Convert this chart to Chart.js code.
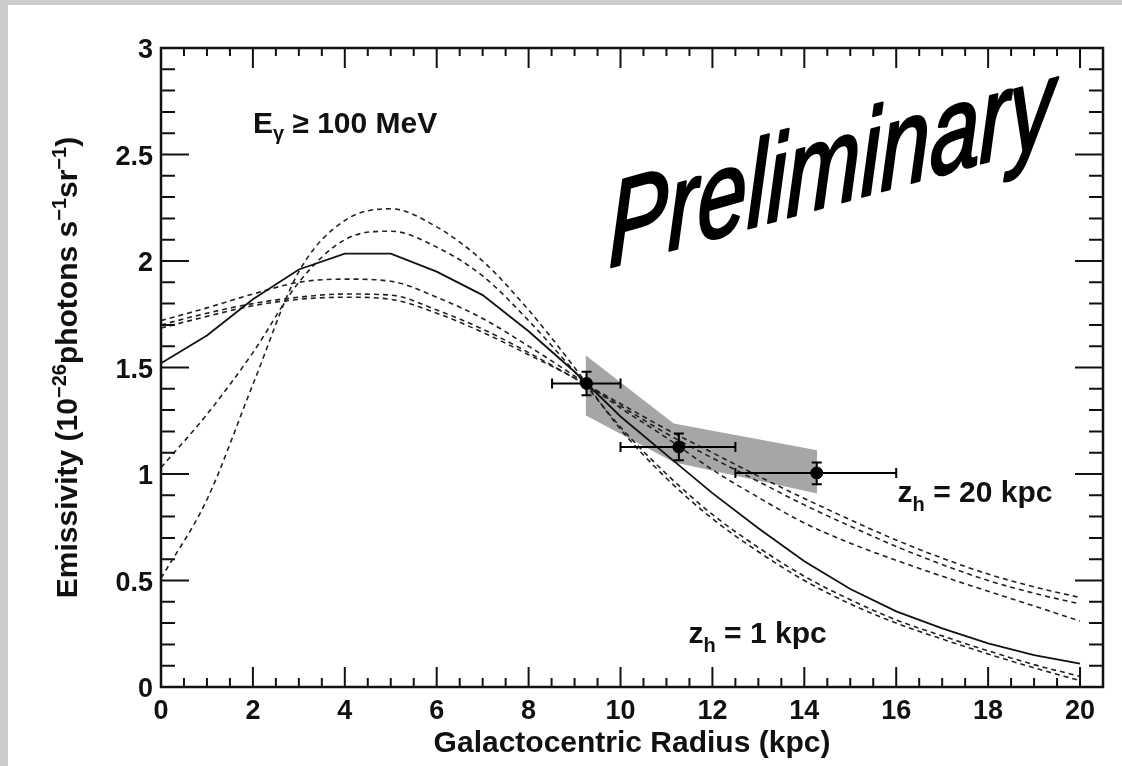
<!DOCTYPE html>
<html>
<head>
<meta charset="utf-8">
<title>Gamma-ray emissivity vs galactocentric radius</title>
<script src="https://cdn.jsdelivr.net/npm/chart.js@4.4.1/dist/chart.umd.min.js"></script>
<style>
  html, body { margin: 0; padding: 0; }
  body { width: 1122px; height: 766px; background: #cccccc; position: relative; overflow: hidden; }
  #plot { position: absolute; left: 8px; top: 5px; background: #ffffff; }
</style>
</head>
<body>
<canvas id="plot" width="1114" height="761"></canvas>
<script>
// model curves, evaluated at integer radii (kpc)
const radius = [0, 1, 2, 3, 4, 5, 6, 7, 8, 9, 10, 11, 12, 13, 14, 15, 16, 17, 18, 19, 20];
const solidCurve = [1.52, 1.65, 1.82, 1.96, 2.035, 2.035, 1.95, 1.84, 1.67, 1.48, 1.27, 1.09, 0.91, 0.745, 0.59, 0.46, 0.355, 0.275, 0.205, 0.15, 0.11];
const dashed1 = [0.51, 0.88, 1.42, 1.95, 2.19, 2.245, 2.16, 2.00, 1.77, 1.50, 1.21, 0.98, 0.79, 0.635, 0.50, 0.39, 0.30, 0.225, 0.155, 0.09, 0.03];
const dashed2 = [1.03, 1.28, 1.57, 1.90, 2.10, 2.14, 2.065, 1.93, 1.72, 1.48, 1.22, 1.00, 0.81, 0.655, 0.52, 0.41, 0.315, 0.24, 0.17, 0.105, 0.05];
const dashed3 = [1.72, 1.78, 1.845, 1.90, 1.915, 1.905, 1.83, 1.73, 1.60, 1.46, 1.31, 1.17, 1.02, 0.89, 0.77, 0.675, 0.595, 0.52, 0.45, 0.38, 0.31];
const dashed4 = [1.70, 1.755, 1.80, 1.83, 1.845, 1.84, 1.77, 1.68, 1.57, 1.45, 1.33, 1.21, 1.10, 0.99, 0.885, 0.785, 0.69, 0.605, 0.53, 0.47, 0.42];
const dashed5 = [1.685, 1.74, 1.79, 1.82, 1.83, 1.82, 1.755, 1.665, 1.56, 1.45, 1.32, 1.19, 1.075, 0.965, 0.855, 0.755, 0.66, 0.575, 0.50, 0.44, 0.39];

// measured emissivities with their ranges
const pointR = [9.26, 11.27, 14.27];
const pointE = [1.425, 1.127, 1.005];
const pointRLow = [8.51, 10.0, 12.5];
const pointRHigh = [10.0, 12.5, 16.0];
const pointELow = [1.37, 1.065, 0.952];
const pointEHigh = [1.48, 1.19, 1.054];

// shaded systematic band
const bandR = [9.24, 11.16, 14.28];
const bandUpper = [1.558, 1.237, 1.112];
const bandLower = [1.276, 1.055, 0.908];

// axis labels
const xTickLabels = [0, 2, 4, 6, 8, 10, 12, 14, 16, 18, 20];
const yTickLabels = [0, 0.5, 1, 1.5, 2, 2.5, 3];
const yTitleParts = [['Emissivity (10', false], ['\u221226', true], ['photons s', false], ['\u22121', true], ['sr', false], ['\u22121', true], [')', false]];

const FONT = '"Liberation Sans", Arial, Helvetica, sans-serif';
const INK = '#111111';

const xy = (xs, ys) => xs.map((v, i) => ({ x: v, y: ys[i] }));

function dashedSet(values) {
    return {
        data: xy(radius, values),
        borderColor: '#222222',
        borderWidth: 1.6,
        borderDash: [5, 4],
        pointRadius: 0,
        fill: false,
        cubicInterpolationMode: 'monotone',
        order: 2
    };
}

// frame with inward ticks on all four sides
const frameTicks = {
    id: 'frameTicks',
    afterDatasetsDraw(chart) {
        const { ctx, chartArea: a, scales: { x, y } } = chart;
        ctx.save();
        ctx.strokeStyle = INK;
        ctx.lineWidth = 2;
        ctx.beginPath();
        for (let i = 0; i <= 40; i++) {
            const px = x.getPixelForValue(i * 0.5);
            const major = i % 4 === 0;
            ctx.moveTo(px, a.bottom); ctx.lineTo(px, a.bottom - (major ? 20 : 9));
            ctx.moveTo(px, a.top); ctx.lineTo(px, a.top + (major ? 20 : 8));
        }
        for (let i = 0; i <= 30; i++) {
            const py = y.getPixelForValue(i / 10);
            const len = i % 5 === 0 ? 28 : 14;
            ctx.moveTo(a.left, py); ctx.lineTo(a.left + len, py);
            ctx.moveTo(a.right, py); ctx.lineTo(a.right - len, py);
        }
        ctx.stroke();
        ctx.lineWidth = 2.5;
        ctx.strokeRect(a.left, a.top, a.right - a.left, a.bottom - a.top);
        ctx.restore();
    }
};

// horizontal and vertical error bars with end caps
const errorBars = {
    id: 'errorBars',
    afterDatasetsDraw(chart) {
        const { ctx, scales: { x, y } } = chart;
        ctx.save();
        ctx.strokeStyle = '#000';
        ctx.lineWidth = 2;
        ctx.beginPath();
        pointR.forEach((r, i) => {
            const cx = x.getPixelForValue(r), cy = y.getPixelForValue(pointE[i]);
            const x0 = x.getPixelForValue(pointRLow[i]), x1 = x.getPixelForValue(pointRHigh[i]);
            const y0 = y.getPixelForValue(pointELow[i]), y1 = y.getPixelForValue(pointEHigh[i]);
            ctx.moveTo(x0, cy); ctx.lineTo(x1, cy);
            ctx.moveTo(x0, cy - 5); ctx.lineTo(x0, cy + 5);
            ctx.moveTo(x1, cy - 5); ctx.lineTo(x1, cy + 5);
            ctx.moveTo(cx, y0); ctx.lineTo(cx, y1);
            ctx.moveTo(cx - 5, y0); ctx.lineTo(cx + 5, y0);
            ctx.moveTo(cx - 5, y1); ctx.lineTo(cx + 5, y1);
        });
        ctx.stroke();
        ctx.restore();
    }
};

// draws text runs, some of them raised or lowered
function drawRuns(ctx, runs, x0, y0) {
    let cx = x0;
    runs.forEach(([text, size, shift]) => {
        ctx.font = 'bold ' + size + 'px ' + FONT;
        ctx.fillText(text, cx, y0 + shift);
        cx += ctx.measureText(text).width;
    });
}

const annotations = {
    id: 'annotations',
    afterDraw(chart) {
        const { ctx, chartArea: a, scales: { x, y } } = chart;
        ctx.save();
        ctx.fillStyle = INK;
        ctx.textBaseline = 'alphabetic';
        ctx.textAlign = 'left';

        drawRuns(ctx, [['E', 30, 0], ['\u03b3', 20, 7], [' \u2265 100 MeV', 30, 0]],
            x.getPixelForValue(2.0), y.getPixelForValue(2.60));
        drawRuns(ctx, [['z', 30, 0], ['h', 20, 9], [' = 20 kpc', 30, 0]],
            x.getPixelForValue(16.03), y.getPixelForValue(0.868));
        drawRuns(ctx, [['z', 30, 0], ['h', 20, 9], [' = 1 kpc', 30, 0]],
            x.getPixelForValue(11.48), y.getPixelForValue(0.205));

        // y axis title with superscripts, rotated
        const sizeOf = sup => sup ? 20 : 30;
        let total = 0;
        yTitleParts.forEach(([t, sup]) => {
            ctx.font = 'bold ' + sizeOf(sup) + 'px ' + FONT;
            total += ctx.measureText(t).width;
        });
        ctx.save();
        ctx.translate(a.left - 84, (a.top + a.bottom) / 2);
        ctx.rotate(-Math.PI / 2);
        let cx = -total / 2;
        yTitleParts.forEach(([t, sup]) => {
            ctx.font = 'bold ' + sizeOf(sup) + 'px ' + FONT;
            ctx.fillText(t, cx, sup ? -11 : 0);
            cx += ctx.measureText(t).width;
        });
        ctx.restore();

        // stamp across the upper right, slightly thickened regular italic
        ctx.save();
        ctx.translate(x.getPixelForValue(9.74), y.getPixelForValue(1.97));
        ctx.transform(1, -0.28, 0, 1.36, 0, 0);
        ctx.font = 'italic 89px ' + FONT;
        ctx.fillStyle = '#000';
        ctx.strokeStyle = '#000';
        ctx.lineWidth = 2.2;
        ctx.lineJoin = 'round';
        ctx.fillText('Preliminary', 0, 0);
        ctx.strokeText('Preliminary', 0, 0);
        ctx.restore();

        ctx.restore();
    }
};

new Chart(document.getElementById('plot'), {
    type: 'line',
    data: {
        datasets: [
            {
                data: xy(pointR, pointE),
                showLine: false,
                pointRadius: 6,
                pointBackgroundColor: '#000',
                pointBorderColor: '#000',
                order: 1
            },
            {
                data: xy(radius, solidCurve),
                borderColor: '#111111',
                borderWidth: 1.8,
                pointRadius: 0,
                tension: 0,
                fill: false,
                order: 2
            },
            dashedSet(dashed1),
            dashedSet(dashed2),
            dashedSet(dashed3),
            dashedSet(dashed4),
            dashedSet(dashed5),
            {
                data: xy(bandR, bandUpper),
                borderWidth: 0,
                pointRadius: 0,
                backgroundColor: 'rgb(166,166,166)',
                fill: '+1',
                order: 3
            },
            {
                data: xy(bandR, bandLower),
                borderWidth: 0,
                pointRadius: 0,
                fill: false,
                order: 3
            }
        ]
    },
    options: {
        responsive: false,
        animation: false,
        devicePixelRatio: 1,
        layout: { padding: { left: 0, right: 19, top: 43, bottom: 0 } },
        plugins: {
            legend: { display: false },
            tooltip: { enabled: false }
        },
        scales: {
            x: {
                type: 'linear',
                min: 0,
                max: 20.5,
                afterBuildTicks: s => { s.ticks = xTickLabels.map(v => ({ value: v })); },
                afterFit: s => { s.height = 79; },
                grid: { display: false, drawTicks: false },
                border: { display: false },
                ticks: {
                    autoSkip: false,
                    maxRotation: 0,
                    padding: 8,
                    color: INK,
                    font: { family: FONT, size: 27, weight: 'bold' },
                    callback: v => String(v)
                },
                title: {
                    display: true,
                    text: 'Galactocentric Radius (kpc)',
                    color: INK,
                    font: { family: FONT, size: 30, weight: 'bold' },
                    padding: { top: 0, bottom: 4 }
                }
            },
            y: {
                min: 0,
                max: 3,
                afterBuildTicks: s => { s.ticks = yTickLabels.map(v => ({ value: v })); },
                afterFit: s => { s.width = 153; },
                grid: { display: false, drawTicks: false },
                border: { display: false },
                ticks: {
                    autoSkip: false,
                    padding: 8,
                    labelOffset: 3,
                    color: INK,
                    font: { family: FONT, size: 27, weight: 'bold' },
                    callback: v => String(v)
                }
            }
        }
    },
    plugins: [frameTicks, errorBars, annotations]
});
</script>
</body>
</html>
